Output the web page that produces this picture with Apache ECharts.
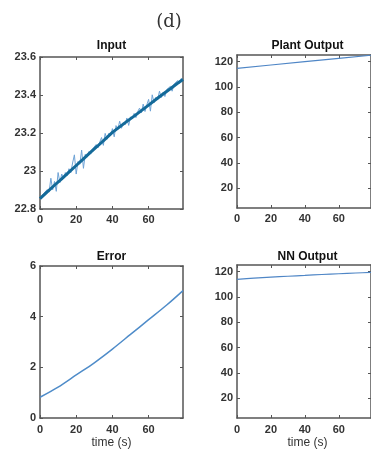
<!DOCTYPE html>
<html><head><meta charset="utf-8">
<script src="https://cdn.jsdelivr.net/npm/echarts@6/dist/echarts.min.js"></script>
<style>html,body{margin:0;padding:0;background:#fff}#c{width:371px;height:452px}</style>
</head><body><div id="c"></div>
<script>
// ---- data ----
const inputTime = [0,1,2,3,4,5,6,7,8,9,10,11,12,13,14,15,16,17,18,19,20,21,22,23,24,25,26,27,28,29,30,31,32,33,34,35,36,37,38,39,40,41,42,43,44,45,46,47,48,49,50,51,52,53,54,55,56,57,58,59,60,61,62,63,64,65,66,67,68,69,70,71,72,73,74,75,76,77,78,79];
const inputRaw = [22.858,22.856,22.882,22.876,22.902,22.889,22.962,22.901,22.945,22.893,22.992,22.939,22.984,22.960,22.992,22.976,23.012,22.991,23.042,23.085,22.984,23.050,23.036,23.110,23.014,23.088,23.073,23.102,23.089,23.115,23.110,23.139,23.121,23.152,23.176,23.135,23.198,23.167,23.198,23.186,23.223,23.180,23.239,23.219,23.262,23.225,23.254,23.243,23.279,23.240,23.285,23.274,23.303,23.281,23.313,23.331,23.306,23.352,23.313,23.348,23.377,23.315,23.401,23.359,23.388,23.375,23.420,23.387,23.413,23.392,23.429,23.420,23.445,23.420,23.456,23.446,23.476,23.461,23.487,23.479];
const fitTime = [0,4,8,12,16,20,24,28,32,36,40,44,48,52,56,60,64,68,72,76,79];
const inputFit = [22.855,22.890,22.925,22.959,22.994,23.029,23.064,23.099,23.133,23.168,23.203,23.232,23.261,23.289,23.318,23.347,23.376,23.405,23.433,23.462,23.482];
const plantTime = [0,20,40,60,79];
const plantOut = [114.8,117.4,120.0,122.6,125.1];
const errTime = [0,10,20,30,40,50,60,70,79];
const errorVal = [0.82,1.22,1.70,2.18,2.72,3.30,3.88,4.46,5.03];
const nnTime = [0,10,20,30,40,50,60,70,79];
const nnOut = [114.0,114.9,115.7,116.4,117.1,117.8,118.4,119.0,119.4];
const xTicks = [0,20,40,60];
const inputTicks = [22.8,23,23.2,23.4,23.6];
const outTicks = [20,40,60,80,100,120];
const errTicks = [0,2,4,6];
const titles = ['Input','Plant Output','Error','NN Output'];
const xLabel = 'time (s)';
const panelTag = '(d)';

const zip = (a,b) => a.map((v,i)=>[v,b[i]]);
const FONT = 'Liberation Sans, Arial, sans-serif';
const AX = '#555';

const grids = [
  {left:40, top:57, width:143, height:152},
  {left:237, top:55, width:141, height:153},
  {left:40, top:266, width:143, height:152},
  {left:237, top:265, width:141, height:153}
];
const yCfg = [
  {min:22.8, max:23.6, ticks:inputTicks},
  {min:4.5, max:125.3, ticks:outTicks},
  {min:0, max:6, ticks:errTicks},
  {min:4.5, max:125.3, ticks:outTicks}
];
const fmt = v => String(+(+v).toFixed(1));
const xAxes = [], yAxes = [];
grids.forEach((g,i)=>{
  const bottomRow = i>=2;
  ['bottom','top'].forEach((pos,j)=>{
    xAxes.push({
      type:'value', gridIndex:i, position:pos, min:0, max:79,
      axisLine:{show:true, onZero:false, lineStyle:{color:AX, width:1.5}},
      axisTick:{show:true, inside:true, length:3, customValues:xTicks, lineStyle:{color:AX, width:1}},
      axisLabel:{show:j===0, customValues:xTicks, formatter:fmt, margin: bottomRow?6:5,
        color:'#333', fontSize:11, fontWeight:'bold', fontFamily:FONT},
      splitLine:{show:false}
    });
  });
  ['left','right'].forEach((pos,j)=>{
    yAxes.push({
      type:'value', gridIndex:i, position:pos, min:yCfg[i].min, max:yCfg[i].max,
      axisLine:{show:true, onZero:false, lineStyle:{color:AX, width:1.5}},
      axisTick:{show:true, inside:true, length:3, customValues:yCfg[i].ticks, lineStyle:{color:AX, width:1}},
      axisLabel:{show:j===0, customValues:yCfg[i].ticks, formatter:fmt, margin:4,
        color:'#333', fontSize:11, fontWeight:'bold', fontFamily:FONT},
      splitLine:{show:false}
    });
  });
});

const line = (gi, data, color, width, smooth) => ({
  type:'line', xAxisIndex:2*gi, yAxisIndex:2*gi, data, showSymbol:false, symbol:'none',
  smooth: smooth || false,
  lineStyle:{color, width}, animation:false, silent:true
});

const titleItems = grids.map((g,i)=>({
  text: titles[i], left: g.left + g.width/2, top: (i<2?40:251), textAlign:'center',
  textStyle:{fontSize:12, fontWeight:'bold', color:'#111', fontFamily:FONT}
}));
titleItems.push({text:xLabel, left:40+143/2, top:437, textAlign:'center',
  textStyle:{fontSize:12, fontWeight:'normal', color:'#333', fontFamily:FONT}});
titleItems.push({text:xLabel, left:237+141/2, top:437, textAlign:'center',
  textStyle:{fontSize:12, fontWeight:'normal', color:'#333', fontFamily:FONT}});
titleItems.push({text:panelTag, left:169, top:13, textAlign:'center',
  textStyle:{fontSize:18, fontWeight:'normal', color:'#333', fontFamily:'DejaVu Serif, serif'}});

const chart = echarts.init(document.getElementById('c'), null, {renderer:'canvas'});
chart.setOption({
  animation:false,
  backgroundColor:'#fff',
  title: titleItems.map(t=>Object.assign({padding:0}, t)),
  grid: grids,
  xAxis: xAxes,
  yAxis: yAxes,
  series: [
    line(0, zip(inputTime, inputRaw), '#6fa3d6', 1),
    line(0, zip(fitTime, inputFit), '#146a99', 3),
    line(1, zip(plantTime, plantOut), '#4f86c6', 1.2),
    line(2, zip(errTime, errorVal), '#4f8cc9', 1.5, 0.3),
    line(3, zip(nnTime, nnOut), '#4f86c6', 1.2, 0.3)
  ]
});
</script></body></html>
